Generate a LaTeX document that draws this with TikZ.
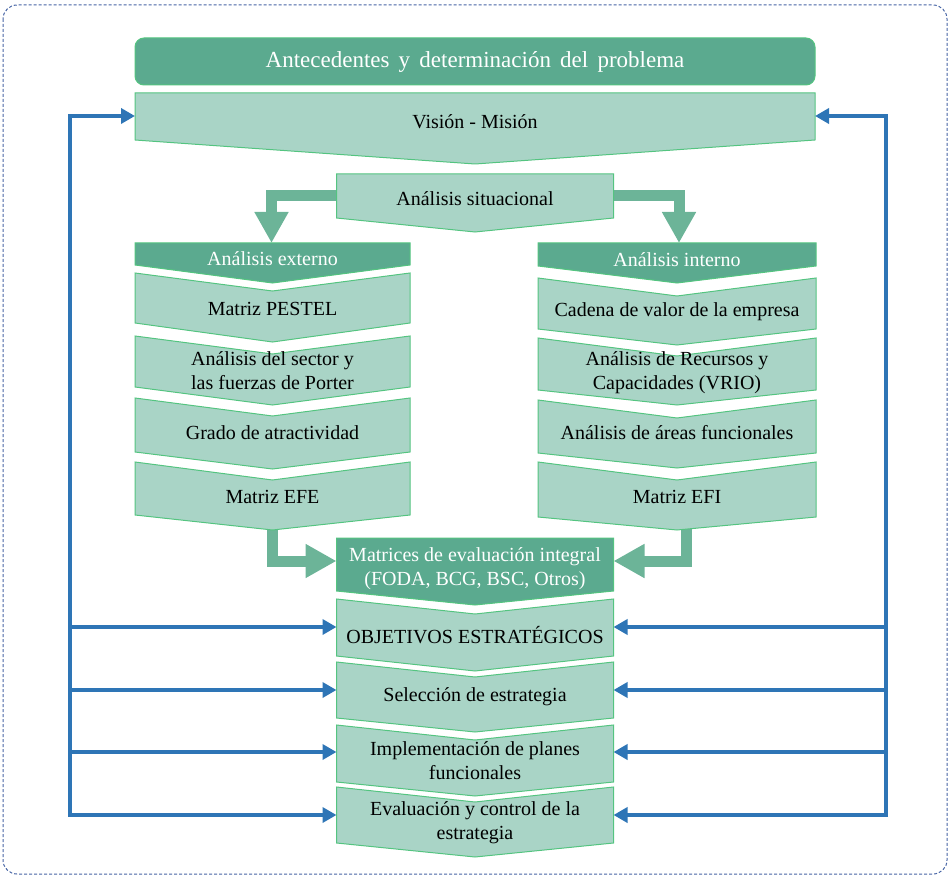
\documentclass[tikz,border=0pt]{standalone}
\usepackage{fontspec}
\setmainfont{Liberation Serif}
\usetikzlibrary{arrows.meta}
\definecolor{cdark}{RGB}{91,170,143}
\definecolor{cfill}{RGB}{169,212,198}
\definecolor{cborder}{RGB}{84,196,128}
\definecolor{carrow}{RGB}{108,180,152}
\definecolor{cblue}{RGB}{46,117,182}
\definecolor{cframe}{RGB}{70,100,165}
\begin{document}
\begin{tikzpicture}[x=1pt,y=-1pt,
  box/.style={fill=cfill, draw=cborder, line width=1pt},
  headbox/.style={fill=cdark, draw=cborder, line width=1pt},
  txt/.style={font=\fontsize{20}{24}\selectfont, align=center, inner sep=0pt},
  headtxt/.style={txt, text=white},
  feedback/.style={draw=cblue, line width=4pt, -{Triangle[width=15pt,length=14pt]}},
  flow/.style={draw=carrow, line width=11pt, line join=miter, -{Triangle[width=32pt,length=31pt]}}]
\useasboundingbox (0,0) rectangle (950,877);
\draw[cframe, line width=1pt, dash pattern=on 3pt off 2pt, rounded corners=14pt] (3,5) rectangle (947,874);

% puntos de conexion
\coordinate (sit-w) at (337,196);
\coordinate (sit-e) at (612,196);
\coordinate (ext-n) at (271.5,243);
\coordinate (int-n) at (679,243);
\coordinate (efe-s) at (272,515);
\coordinate (efi-s) at (686.5,515);
\coordinate (mat-w) at (336.5,561);
\coordinate (mat-e) at (613.5,561);

% flechas verdes
\draw[flow] (sit-w) -| (ext-n);
\draw[flow] (sit-e) -| (int-n);
\draw[flow] (efe-s) |- (mat-w);
\draw[flow] (efi-s) |- (mat-e);

% cabecera
\draw[headbox, rounded corners=9pt] (135,38) rectangle (815,85);
\node[headtxt, font={\fontsize{23}{26}\selectfont\spaceskip=0.4em\relax}] (titulo) at (475,62) {Antecedentes y determinación del problema};
\draw[box] (135,93) -- (815,93) -- (815,140) -- (475,164) -- (135,140) -- cycle;
\node[txt] (vision) at (475,122) {Visión - Misión};
\draw[box] (336.5,174) -- (613.5,174) -- (613.5,218) -- (475,232) -- (336.5,218) -- cycle;
\node[txt] (situacional) at (475,199) {Análisis situacional};

% analisis externo
\draw[headbox] (135,243) -- (410,243) -- (410,265) -- (272.5,283) -- (135,265) -- cycle;
\node[headtxt] (externo) at (272.5,259) {Análisis externo};
\draw[box] (135,273) -- (272.5,291) -- (410,273) -- (410,323) -- (272.5,342) -- (135,323) -- cycle;
\node[txt] (pestel) at (272.5,309) {Matriz PESTEL};
\draw[box] (135,336) -- (272.5,354) -- (410,336) -- (410,387) -- (272.5,405) -- (135,387) -- cycle;
\node[txt] (sector) at (272.5,371) {Análisis del sector y\\las fuerzas de Porter};
\draw[box] (135,398) -- (272.5,416) -- (410,398) -- (410,452) -- (272.5,469) -- (135,452) -- cycle;
\node[txt] (grado) at (272.5,433) {Grado de atractividad};
\draw[box] (135,462) -- (272.5,480) -- (410,462) -- (410,515) -- (272.5,530) -- (135,515) -- cycle;
\node[txt] (efe) at (272.5,497) {Matriz EFE};

% analisis interno
\draw[headbox] (538,243) -- (816,243) -- (816,266) -- (677,283) -- (538,266) -- cycle;
\node[headtxt] (interno) at (677,260) {Análisis interno};
\draw[box] (538,278) -- (677,296) -- (816,278) -- (816,329) -- (677,345) -- (538,329) -- cycle;
\node[txt] (cadena) at (677,312) {Cadena de valor de la empresa};
\draw[box] (538,338) -- (677,356) -- (816,338) -- (816,390) -- (677,405) -- (538,390) -- cycle;
\node[txt] (vrio) at (677,372.5) {Análisis de Recursos y\\Capacidades (VRIO)};
\draw[box] (538,400) -- (677,418) -- (816,400) -- (816,453) -- (677,468) -- (538,453) -- cycle;
\node[txt] (areas) at (677,433) {Análisis de áreas funcionales};
\draw[box] (538,462) -- (677,480) -- (816,462) -- (816,517) -- (677,530) -- (538,517) -- cycle;
\node[txt] (efi) at (677,497) {Matriz EFI};

% columna central
\draw[headbox] (336.5,538) -- (613.5,538) -- (613.5,591) -- (475,605) -- (336.5,591) -- cycle;
\node[headtxt] (matrices) at (475,568.5) {Matrices de evaluación integral\\(FODA, BCG, BSC, Otros)};
\draw[box] (336.5,599) -- (475,614) -- (613.5,599) -- (613.5,656) -- (475,671) -- (336.5,656) -- cycle;
\node[txt] (objetivos) at (475,635) {OBJETIVOS ESTRATÉGICOS};
\draw[box] (336.5,662) -- (475,677) -- (613.5,662) -- (613.5,718) -- (475,732) -- (336.5,718) -- cycle;
\node[txt] (seleccion) at (475,697) {Selección de estrategia};
\draw[box] (336.5,725) -- (475,740) -- (613.5,725) -- (613.5,782) -- (475,796) -- (336.5,782) -- cycle;
\node[txt] (planes) at (475,761) {Implementación de planes\\funcionales};
\draw[box] (336.5,787) -- (475,802) -- (613.5,787) -- (613.5,843) -- (475,857) -- (336.5,843) -- cycle;
\node[txt] (control) at (475,823) {Evaluación y control de la\\estrategia};

% retroalimentacion
\coordinate (vm-w) at (135,116);
\coordinate (vm-e) at (815,116);
\coordinate (railL) at (70,815);
\coordinate (railR) at (886,815);
\draw[feedback] (railL) |- (vm-w);
\draw[feedback] (railR) |- (vm-e);
\foreach \y in {627,690,752,815} {
  \coordinate (in-w) at (336.5,\y);
  \coordinate (in-e) at (613.5,\y);
  \coordinate (rl) at (68,\y);
  \coordinate (rr) at (888,\y);
  \draw[feedback] (rl) -- (in-w);
  \draw[feedback] (rr) -- (in-e);
}
\end{tikzpicture}
\end{document}
